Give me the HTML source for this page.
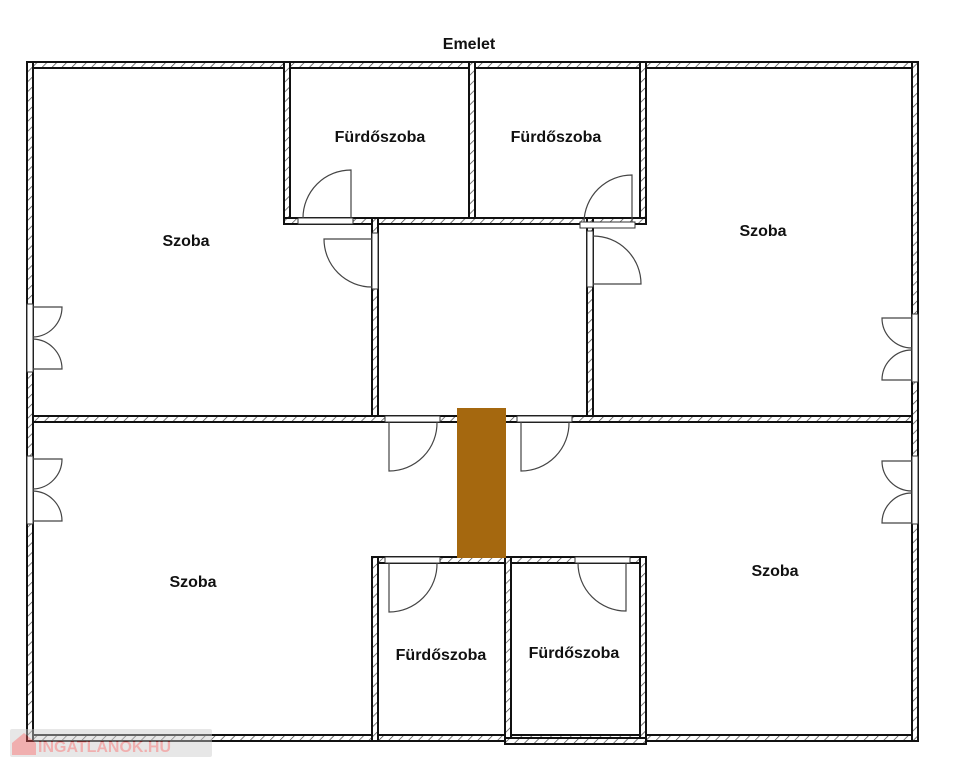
<!DOCTYPE html>
<html><head><meta charset="utf-8"><style>
html,body{margin:0;padding:0;background:#fff;}
svg{display:block;}
text{font-family:"Liberation Sans",sans-serif;font-weight:bold;font-size:16px;fill:#111;}
</style></head><body>
<svg width="970" height="768" viewBox="0 0 970 768" xmlns="http://www.w3.org/2000/svg">
<defs>
<pattern id="h" width="7" height="7" patternUnits="userSpaceOnUse" patternTransform="rotate(45)">
<rect width="7" height="7" fill="#fff"/><line x1="0" y1="0" x2="0" y2="7" stroke="#444" stroke-width="1.4"/>
</pattern>
</defs>
<g fill="url(#h)" stroke="#111" stroke-width="2">
<rect x="27" y="62" width="891" height="6"/>
<rect x="27" y="735" width="891" height="6"/>
<rect x="27" y="62" width="6" height="679"/>
<rect x="912" y="62" width="6" height="679"/>
<rect x="284" y="62" width="6" height="162"/>
<rect x="469" y="62" width="6" height="156"/>
<rect x="640" y="62" width="6" height="162"/>
<rect x="284" y="218" width="362" height="6"/>
<rect x="372" y="218" width="6" height="204"/>
<rect x="587" y="218" width="6" height="204"/>
<rect x="33" y="416" width="879" height="6"/>
<rect x="372" y="557" width="274" height="6"/>
<rect x="372" y="557" width="6" height="184"/>
<rect x="505" y="557" width="6" height="187"/>
<rect x="640" y="557" width="6" height="184"/>
<rect x="505" y="738" width="141" height="6"/>
</g>
<g fill="#fff" stroke="#333" stroke-width="1">
<rect x="298" y="218" width="55" height="6"/>
<rect x="580" y="222" width="55" height="6"/>
<rect x="372" y="233" width="6" height="56"/>
<rect x="587" y="231" width="6" height="56"/>
<rect x="385" y="416" width="55" height="6"/>
<rect x="517" y="416" width="55" height="6"/>
<rect x="385" y="557" width="55" height="6"/>
<rect x="575" y="557" width="55" height="6"/>
<rect x="27" y="304" width="6" height="68"/>
<rect x="27" y="456" width="6" height="68"/>
<rect x="912" y="314" width="6" height="68"/>
<rect x="912" y="456" width="6" height="68"/>
</g>
<rect x="457" y="408" width="49" height="150" fill="#A5680F"/>
<g fill="none" stroke="#444" stroke-width="1.2">
<path d="M351 218 V170 A48 48 0 0 0 303 218"/>
<path d="M632 222 V175 A48 48 0 0 0 584 222"/>
<path d="M372 239 H324 A48 48 0 0 0 372 287"/>
<path d="M593 236 A48 48 0 0 1 641 284 H593"/>
<path d="M389 422 V471 A48 48 0 0 0 437 422"/>
<path d="M521 422 V471 A48 48 0 0 0 569 422"/>
<path d="M389 563 V612 A48 48 0 0 0 437 563"/>
<path d="M626 563 V611 A48 48 0 0 1 578 563"/>
<path d="M33 307 H62 A30 30 0 0 1 33 337 M33 339 A30 30 0 0 1 62 369 H33"/>
<path d="M33 459 H62 A30 30 0 0 1 33 489 M33 491 A30 30 0 0 1 62 521 H33"/>
<path d="M912 318 H882 A30 30 0 0 0 912 348 M912 350 A30 30 0 0 0 882 380 H912"/>
<path d="M912 461 H882 A30 30 0 0 0 912 491 M912 493 A30 30 0 0 0 882 523 H912"/>
</g>
<text x="469" y="49" text-anchor="middle" font-size="17">Emelet</text>
<text x="380" y="142" text-anchor="middle">Fürdőszoba</text>
<text x="556" y="142" text-anchor="middle">Fürdőszoba</text>
<text x="186" y="246" text-anchor="middle">Szoba</text>
<text x="763" y="236" text-anchor="middle">Szoba</text>
<text x="193" y="587" text-anchor="middle">Szoba</text>
<text x="775" y="576" text-anchor="middle">Szoba</text>
<text x="441" y="660" text-anchor="middle">Fürdőszoba</text>
<text x="574" y="658" text-anchor="middle">Fürdőszoba</text>
<g opacity="0.45">
<rect x="10" y="729" width="202" height="28" rx="2" fill="#ccc"/>
<text x="38" y="752" font-size="20" style="fill:#e05050">INGATLANOK.HU</text>
<path d="M12 743 L24 733 L36 743 V755 H12 Z" fill="#e05050"/>
</g>
</svg>
</body></html>
